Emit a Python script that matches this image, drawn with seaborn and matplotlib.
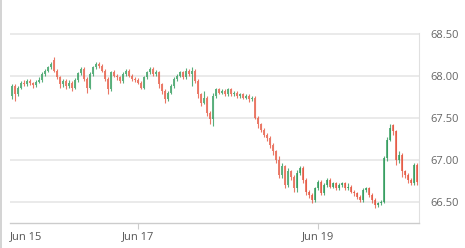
import matplotlib
matplotlib.use("Agg")
import matplotlib.pyplot as plt
from matplotlib.lines import Line2D
import seaborn as sns
import pandas as pd
import numpy as np

opens = [67.76, 67.88, 67.78, 67.86, 67.92, 67.90, 67.94, 67.91, 67.89, 67.93,
         67.95, 68.02, 68.06, 68.10, 68.19, 68.06, 67.98, 67.90, 67.94, 67.88,
         67.92, 67.86, 67.95, 68.03, 68.08, 67.96, 67.86, 68.02, 68.10, 68.14,
         68.12, 68.06, 67.96, 67.84, 68.04, 68.00, 67.98, 67.94, 68.02, 68.06,
         68.00, 67.96, 67.95, 67.92, 67.86, 67.98, 68.04, 68.08, 68.02, 68.04,
         67.90, 67.82, 67.72, 67.80, 67.88, 67.96, 68.00, 68.04, 67.98, 68.06,
         68.02, 68.06, 67.94, 67.78, 67.68, 67.74, 67.56, 67.48, 67.76, 67.84,
         67.80, 67.82, 67.78, 67.84, 67.78, 67.80, 67.76, 67.78, 67.74, 67.76,
         67.72, 67.74, 67.50, 67.42, 67.36, 67.30, 67.26, 67.18, 67.10, 67.00,
         66.82, 66.92, 66.70, 66.86, 66.80, 66.66, 66.84, 66.90, 66.76, 66.62,
         66.58, 66.52, 66.66, 66.74, 66.60, 66.70, 66.76, 66.68, 66.72, 66.66,
         66.70, 66.72, 66.66, 66.68, 66.62, 66.60, 66.56, 66.52, 66.64, 66.66,
         66.58, 66.52, 66.46, 66.48, 66.50, 67.02, 67.24, 67.41, 67.34, 67.00,
         67.06, 66.86, 66.82, 66.76, 66.72, 66.94]
closes = [67.88, 67.78, 67.86, 67.92, 67.90, 67.94, 67.91, 67.89, 67.93, 67.95,
          68.02, 68.06, 68.10, 68.14, 68.06, 67.98, 67.90, 67.94, 67.88, 67.92,
          67.86, 67.95, 68.03, 68.08, 67.96, 67.86, 68.02, 68.10, 68.14, 68.12,
          68.06, 67.96, 67.84, 68.04, 68.00, 67.98, 67.94, 68.02, 68.06, 68.00,
          67.96, 67.95, 67.92, 67.86, 67.98, 68.04, 68.08, 68.02, 68.04, 67.90,
          67.82, 67.72, 67.80, 67.88, 67.96, 68.00, 68.04, 67.98, 68.06, 68.02,
          68.06, 67.94, 67.78, 67.68, 67.74, 67.56, 67.48, 67.76, 67.84, 67.80,
          67.82, 67.78, 67.84, 67.78, 67.80, 67.76, 67.78, 67.74, 67.76, 67.72,
          67.74, 67.50, 67.42, 67.36, 67.30, 67.26, 67.18, 67.10, 67.00, 66.82,
          66.92, 66.70, 66.86, 66.80, 66.66, 66.84, 66.90, 66.76, 66.62, 66.58,
          66.52, 66.66, 66.74, 66.60, 66.70, 66.76, 66.68, 66.72, 66.66, 66.70,
          66.72, 66.66, 66.68, 66.62, 66.60, 66.56, 66.52, 66.64, 66.66, 66.58,
          66.52, 66.46, 66.48, 66.50, 67.02, 67.24, 67.38, 67.34, 67.00, 67.06,
          66.86, 66.82, 66.76, 66.72, 66.94, 66.74]
highs = [67.90, 67.90, 67.88, 67.94, 67.95, 67.96, 67.96, 67.93, 67.95, 67.98,
         68.04, 68.08, 68.12, 68.16, 68.22, 68.08, 68.00, 67.96, 67.96, 67.95,
         67.94, 67.97, 68.05, 68.10, 68.10, 67.98, 68.04, 68.12, 68.16, 68.17,
         68.14, 68.08, 67.98, 68.06, 68.07, 68.02, 68.00, 68.04, 68.08, 68.08,
         68.02, 67.98, 67.97, 67.94, 68.00, 68.06, 68.10, 68.10, 68.07, 68.06,
         67.92, 67.84, 67.82, 67.90, 67.98, 68.02, 68.06, 68.06, 68.09, 68.08,
         68.10, 68.08, 67.96, 67.80, 67.82, 67.76, 67.58, 67.80, 67.86, 67.86,
         67.84, 67.84, 67.86, 67.86, 67.82, 67.82, 67.80, 67.80, 67.78, 67.78,
         67.76, 67.76, 67.52, 67.44, 67.38, 67.32, 67.28, 67.20, 67.12, 67.04,
         66.96, 66.94, 66.90, 66.88, 66.82, 66.88, 66.93, 66.92, 66.78, 66.64,
         66.60, 66.68, 66.76, 66.76, 66.72, 66.78, 66.78, 66.74, 66.74, 66.72,
         66.74, 66.74, 66.72, 66.70, 66.64, 66.62, 66.58, 66.66, 66.68, 66.68,
         66.60, 66.54, 66.50, 66.52, 67.04, 67.27, 67.42, 67.43, 67.36, 67.10,
         67.08, 66.88, 66.84, 66.78, 66.96, 66.96]
lows = [67.72, 67.70, 67.76, 67.84, 67.88, 67.88, 67.89, 67.86, 67.87, 67.91,
        67.93, 68.00, 68.04, 68.08, 68.04, 67.96, 67.86, 67.87, 67.84, 67.85,
        67.82, 67.84, 67.93, 68.01, 67.94, 67.80, 67.84, 68.00, 68.08, 68.09,
        68.04, 67.94, 67.78, 67.82, 67.98, 67.95, 67.92, 67.92, 68.00, 67.98,
        67.94, 67.93, 67.90, 67.84, 67.84, 67.96, 68.02, 68.00, 68.00, 67.86,
        67.78, 67.68, 67.70, 67.78, 67.86, 67.94, 67.98, 67.96, 67.96, 68.00,
        67.88, 67.92, 67.74, 67.64, 67.66, 67.52, 67.42, 67.40, 67.74, 67.78,
        67.78, 67.76, 67.76, 67.76, 67.76, 67.74, 67.74, 67.72, 67.72, 67.69,
        67.70, 67.48, 67.38, 67.33, 67.27, 67.22, 67.14, 67.06, 66.96, 66.78,
        66.78, 66.66, 66.68, 66.76, 66.62, 66.62, 66.82, 66.72, 66.58, 66.54,
        66.49, 66.50, 66.64, 66.58, 66.58, 66.68, 66.66, 66.66, 66.64, 66.64,
        66.68, 66.64, 66.64, 66.60, 66.57, 66.53, 66.50, 66.50, 66.62, 66.55,
        66.49, 66.43, 66.44, 66.46, 66.48, 66.98, 67.22, 67.30, 66.94, 66.96,
        66.80, 66.78, 66.72, 66.70, 66.70, 66.70]

tick_positions = [4.8, 42.2, 102.2]
tick_labels = ["Jun 15", "Jun 17", "Jun 19"]
y_ticks = [66.5, 67.0, 67.5, 68.0, 68.5]

df = pd.DataFrame({"open": opens, "high": highs, "low": lows, "close": closes})
df["idx"] = np.arange(len(df))
df["up"] = df["close"] >= df["open"]

sns.set_theme(style="white")
plt.rcParams["font.family"] = ["Open Sans", "DejaVu Sans"]

fig = plt.figure(figsize=(4.65, 2.48), dpi=100)
ax = fig.add_axes([10 / 465, 1 - 223 / 248, 409 / 465, 190 / 248])

green = "#2e9a5a"
red = "#e5553f"
colors = [green if u else red for u in df["up"]]

ax.vlines(df["idx"], df["low"], df["high"], colors=colors, linewidth=0.8, alpha=0.8, zorder=3)
bottoms = np.minimum(df["open"], df["close"])
heights = np.maximum(np.abs(df["close"] - df["open"]), 0.008)
ax.bar(df["idx"], heights, bottom=bottoms, width=0.62, color=colors, alpha=0.75,
       linewidth=0, zorder=3)

ax.set_xlim(-0.5, 135.8)
ax.set_ylim(66.246, 68.51)

ax.yaxis.tick_right()
ax.set_yticks(y_ticks)
ax.set_yticklabels([f"{v:.2f}" for v in y_ticks], fontsize=8, color="#666666")
ax.tick_params(axis="y", length=0, pad=8)
ax.grid(axis="y", color="#e8e8e8", linewidth=1.3, zorder=0)

ax.set_xticks(tick_positions)
ax.set_xticklabels(tick_labels, fontsize=8, color="#555555")
ax.tick_params(axis="x", length=4, width=0.8, color="#cccccc", pad=2, bottom=True)
ax.xaxis.get_major_ticks()[0].tick1line.set_visible(False)

for s in ["top", "left"]:
    ax.spines[s].set_visible(False)
ax.spines["bottom"].set_color("#cccccc")
ax.spines["bottom"].set_linewidth(1.0)
ax.spines["right"].set_color("#e0e0e0")
ax.spines["right"].set_linewidth(0.8)

fig.add_artist(Line2D([0.002, 0.002], [0, 1], color="#cccccc", linewidth=1.2,
                      transform=fig.transFigure))

fig.savefig("out.png", dpi=100)
